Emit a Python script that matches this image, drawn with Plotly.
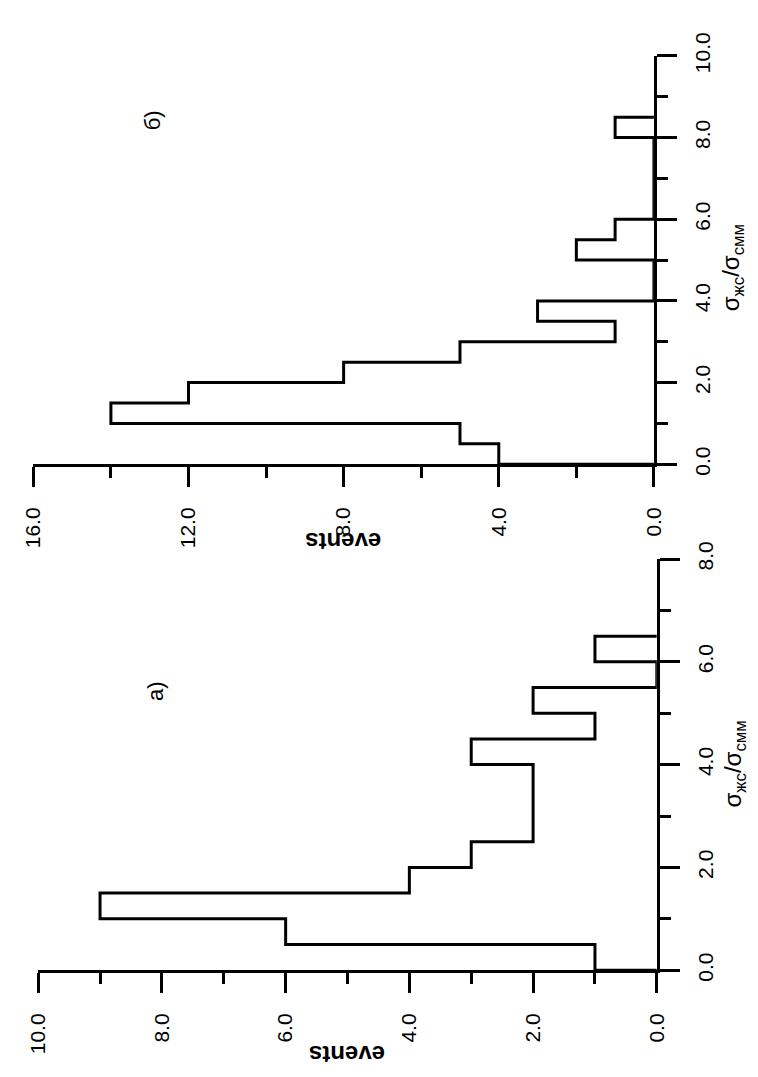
import plotly.graph_objects as go

# ---------------- data ----------------
bin_width = 0.5
# panel б) (top): counts per σ-bin starting at 0
counts_b = [4, 5, 14, 12, 8, 5, 1, 3, 0, 0, 2, 1, 0, 0, 0, 0, 1]
# panel a) (bottom)
counts_a = [1, 6, 9, 4, 3, 2, 2, 2, 3, 1, 2, 0, 1]

events_ticks_b = [0, 4, 8, 12, 16]
events_ticks_a = [0, 2, 4, 6, 8, 10]
sigma_ticks_b = [0, 2, 4, 6, 8, 10]
sigma_ticks_a = [0, 2, 4, 6, 8]

sigma_title = "σ<sub>жс</sub>/σ<sub>смм</sub>"
events_title = "events"
label_a = "a)"
label_b = "б)"

W, H = 758, 1077
FONT = "Liberation Sans, Arial, sans-serif"


def step_outline(counts, w):
    xs, ys = [0], [0]
    for i, c in enumerate(counts):
        xs += [c, c]
        ys += [i * w, (i + 1) * w]
    xs.append(0)
    ys.append(len(counts) * w)
    return xs, ys


def px_x(p):
    return p / W


def px_y(p):
    return 1 - p / H


fig = go.Figure()

xb, yb = step_outline(counts_b, bin_width)
fig.add_trace(go.Scatter(x=xb, y=yb, mode="lines", xaxis="x", yaxis="y",
                         line=dict(color="black", width=3), cliponaxis=False,
                         hoverinfo="skip"))
xa, ya = step_outline(counts_a, bin_width)
fig.add_trace(go.Scatter(x=xa, y=ya, mode="lines", xaxis="x2", yaxis="y2",
                         line=dict(color="black", width=3), cliponaxis=False,
                         hoverinfo="skip"))

tickfont = dict(family=FONT, size=21, color="black")


def events_axis(domain, rng, tickvals, minor_dtick, anchor):
    return dict(domain=domain, range=rng, anchor=anchor, showline=True,
                linecolor="black", linewidth=2.5, ticks="outside", ticklen=20,
                tickwidth=2.5, tickcolor="black", tickvals=tickvals,
                ticktext=[f"{v:.1f}" for v in tickvals], tickangle=-90,
                tickfont=tickfont, showgrid=False, zeroline=False,
                ticklabelstandoff=12,
                minor=dict(dtick=minor_dtick, tick0=0, ticks="outside",
                           ticklen=11, tickwidth=2.5, tickcolor="black",
                           showgrid=False))


def sigma_axis(domain, rng, tickvals, anchor):
    return dict(domain=domain, range=rng, anchor=anchor, side="right",
                showline=True, linecolor="black", linewidth=2.5,
                ticks="outside", ticklen=20, tickwidth=2.5, tickcolor="black",
                tickvals=tickvals, ticktext=[f"{v:.1f}" for v in tickvals],
                tickangle=-90, tickfont=tickfont, showgrid=False,
                zeroline=False, ticklabelstandoff=8,
                minor=dict(dtick=1, tick0=0, ticks="outside", ticklen=11,
                           tickwidth=2.5, tickcolor="black", showgrid=False))


fig.update_layout(
    width=W, height=H,
    margin=dict(l=0, r=0, t=0, b=0),
    paper_bgcolor="white", plot_bgcolor="rgba(0,0,0,0)",
    showlegend=False,
    xaxis=events_axis([px_x(22), px_x(662)], [16, 0], events_ticks_b, 2, "y"),
    yaxis=sigma_axis([px_y(455), px_y(33)], [0, 10], sigma_ticks_b, "x"),
    xaxis2=events_axis([px_x(27), px_x(665)], [10, 0], events_ticks_a, 1, "y2"),
    yaxis2=sigma_axis([px_y(978), px_y(553)], [0, 8], sigma_ticks_a, "x2"),
)

ann_font = dict(family=FONT, size=22, color="black")
title_font = dict(family=FONT, size=24, color="black", weight="bold")
annotations = [
    dict(text=events_title, x=px_x(342), y=px_y(535), textangle=180,
         font=title_font),
    dict(text=events_title, x=px_x(346), y=px_y(1065), textangle=180,
         font=title_font),
    dict(text=sigma_title, x=px_x(743), y=px_y(252), textangle=-90,
         font=dict(family=FONT, size=24, color="black")),
    dict(text=sigma_title, x=px_x(745), y=px_y(765), textangle=-90,
         font=dict(family=FONT, size=24, color="black")),
    dict(text=label_a, x=px_x(148), y=px_y(690), textangle=-90, font=ann_font),
    dict(text=label_b, x=px_x(145), y=px_y(100), textangle=-90, font=ann_font),
]
for a in annotations:
    a.update(xref="paper", yref="paper", showarrow=False,
             xanchor="center", yanchor="middle")
fig.update_layout(annotations=annotations)

fig.write_html("out.html")
